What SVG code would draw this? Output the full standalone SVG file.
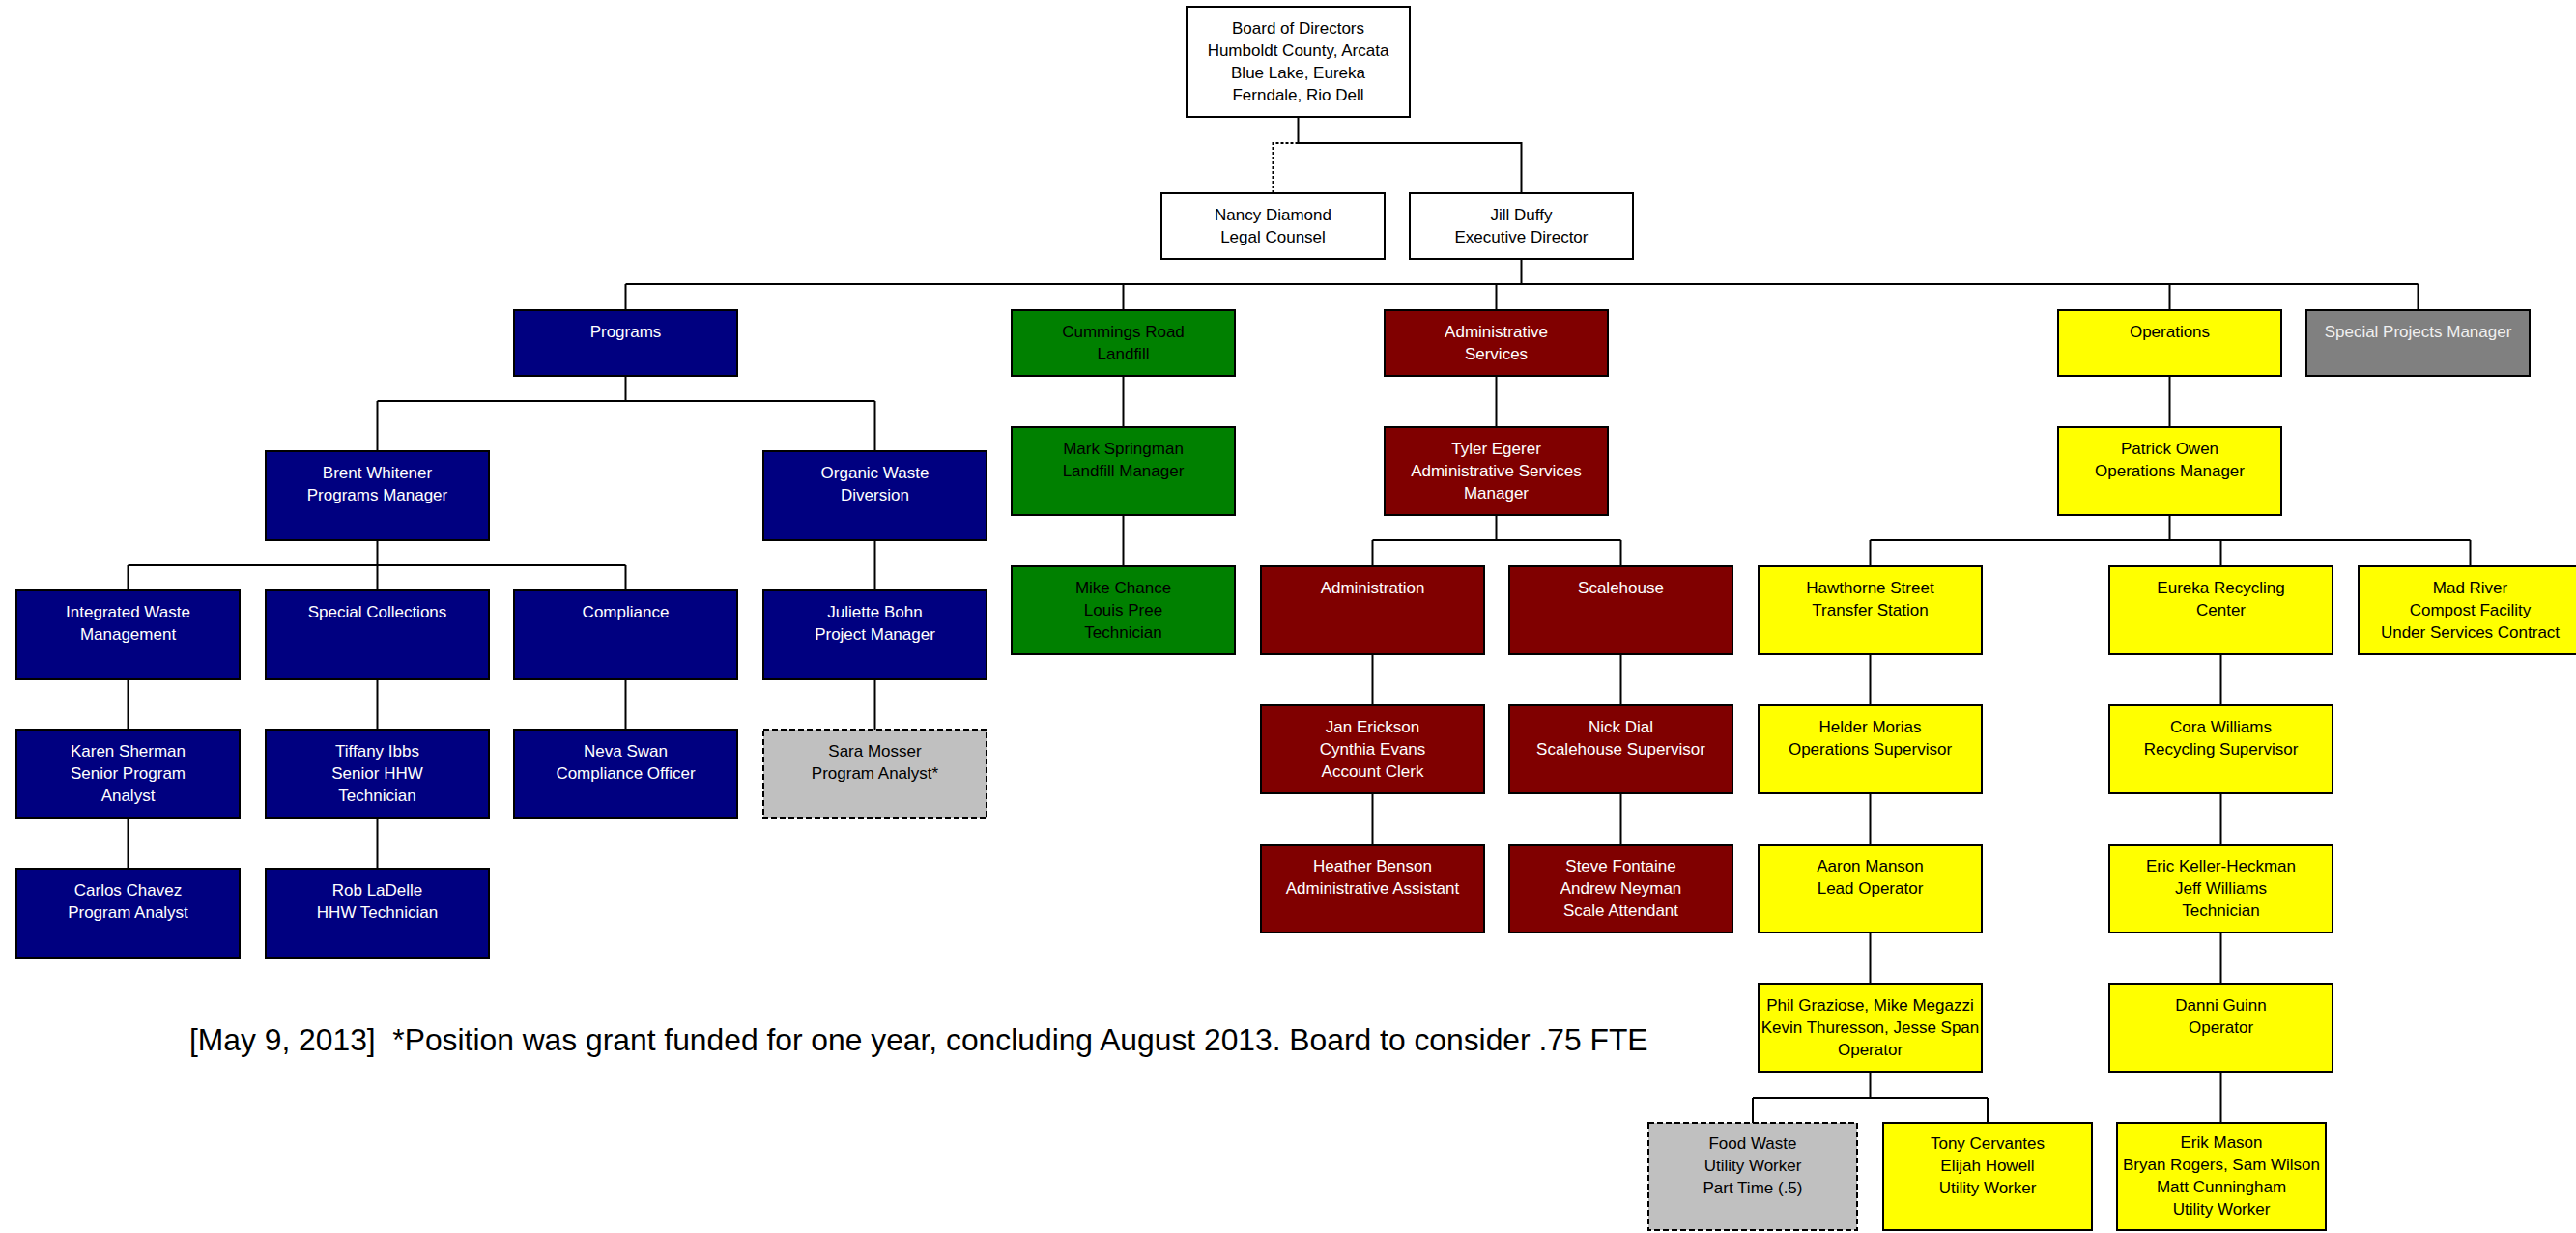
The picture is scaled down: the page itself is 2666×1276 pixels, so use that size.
<svg xmlns="http://www.w3.org/2000/svg" width="2666" height="1276" viewBox="0 0 2666 1276">
<style>
.b{stroke:#000;stroke-width:2}
.wh{fill:#fff}.nv{fill:#000080}.gr{fill:#008000}.rd{fill:#800000}.yl{fill:#ffff00}.gy{fill:#808080}.lg{fill:#c0c0c0;stroke-dasharray:6 3}
text{font-family:"Liberation Sans",Arial,sans-serif;font-size:17px;text-anchor:middle}
.tw{fill:#fff}.tk{fill:#000}
.c path{fill:none;stroke:#000;stroke-width:2}
.c path.dot{stroke-dasharray:3 2}
.note{font-size:31.8px;text-anchor:start;fill:#000}
</style>
<g class="c" id="connectors">
<path d="M1343.5 121V148H1574.5V200"/>
<path class="dot" d="M1343.5 148H1317.5V200"/>
<path d="M1574.5 268V294M647.5 294H2502.5M647.5 294V321M1162.5 294V321M1548.5 294V321M2245.5 294V321M2502.5 294V321"/>
<path d="M647.5 389V415M390.5 415H905.5M390.5 415V467M905.5 415V467"/>
<path d="M390.5 559V585M132.5 585H647.5M132.5 585V611M390.5 585V611M647.5 585V611M905.5 559V611"/>
<path d="M132.5 703V755M390.5 703V755M647.5 703V755M905.5 703V755M132.5 847V899M390.5 847V899"/>
<path d="M1162.5 389V442M1162.5 533V586"/>
<path d="M1548.5 389V442M1548.5 533V559M1420.5 559H1677.5M1420.5 559V586M1677.5 559V586"/>
<path d="M1420.5 677V730M1420.5 821V874M1677.5 677V730M1677.5 821V874"/>
<path d="M2245.5 389V442M2245.5 533V559M1935.5 559H2556.5M1935.5 559V586M2298.5 559V586M2556.5 559V586"/>
<path d="M1935.5 677V730M1935.5 821V874M1935.5 965V1018M1935.5 1109V1136M1814 1136H2057M1814 1136V1162M2057 1136V1162"/>
<path d="M2298.5 677V730M2298.5 821V874M2298.5 965V1018M2298.5 1109V1162"/>
</g>
<g id="board"><rect class="b wh" x="1228" y="7" width="231" height="114"/><text class="tk" x="1343.5" y="34.5">Board of Directors<tspan x="1343.5" dy="23.3">Humboldt County, Arcata</tspan><tspan x="1343.5" dy="23.3">Blue Lake, Eureka</tspan><tspan x="1343.5" dy="23.3">Ferndale, Rio Dell</tspan></text></g>
<g id="nancy"><rect class="b wh" x="1202" y="200" width="231" height="68"/><text class="tk" x="1317.5" y="227.5">Nancy Diamond<tspan x="1317.5" dy="23">Legal Counsel</tspan></text></g>
<g id="jill"><rect class="b wh" x="1459" y="200" width="231" height="68"/><text class="tk" x="1574.5" y="227.5">Jill Duffy<tspan x="1574.5" dy="23">Executive Director</tspan></text></g>
<g id="programs"><rect class="b nv" x="532" y="321" width="231" height="68"/><text class="tw" x="647.5" y="348.5">Programs</text></g>
<g id="cummings"><rect class="b gr" x="1047" y="321" width="231" height="68"/><text class="tk" x="1162.5" y="348.5">Cummings Road<tspan x="1162.5" dy="23">Landfill</tspan></text></g>
<g id="adminservices"><rect class="b rd" x="1433" y="321" width="231" height="68"/><text class="tw" x="1548.5" y="348.5">Administrative<tspan x="1548.5" dy="23">Services</tspan></text></g>
<g id="operations"><rect class="b yl" x="2130" y="321" width="231" height="68"/><text class="tk" x="2245.5" y="348.5">Operations</text></g>
<g id="specialprojects"><rect class="b gy" x="2387" y="321" width="231" height="68"/><text fill="#f0f0f0" x="2502.5" y="348.5">Special Projects Manager</text></g>
<g id="brent"><rect class="b nv" x="275" y="467" width="231" height="92"/><text class="tw" x="390.5" y="494.5">Brent Whitener<tspan x="390.5" dy="23">Programs Manager</tspan></text></g>
<g id="organic"><rect class="b nv" x="790" y="467" width="231" height="92"/><text class="tw" x="905.5" y="494.5">Organic Waste<tspan x="905.5" dy="23">Diversion</tspan></text></g>
<g id="integrated"><rect class="b nv" x="17" y="611" width="231" height="92"/><text class="tw" x="132.5" y="638.5">Integrated Waste<tspan x="132.5" dy="23">Management</tspan></text></g>
<g id="specialcollections"><rect class="b nv" x="275" y="611" width="231" height="92"/><text class="tw" x="390.5" y="638.5">Special Collections</text></g>
<g id="compliance"><rect class="b nv" x="532" y="611" width="231" height="92"/><text class="tw" x="647.5" y="638.5">Compliance</text></g>
<g id="juliette"><rect class="b nv" x="790" y="611" width="231" height="92"/><text class="tw" x="905.5" y="638.5">Juliette Bohn<tspan x="905.5" dy="23">Project Manager</tspan></text></g>
<g id="karen"><rect class="b nv" x="17" y="755" width="231" height="92"/><text class="tw" x="132.5" y="782.5">Karen Sherman<tspan x="132.5" dy="23">Senior Program</tspan><tspan x="132.5" dy="23">Analyst</tspan></text></g>
<g id="tiffany"><rect class="b nv" x="275" y="755" width="231" height="92"/><text class="tw" x="390.5" y="782.5">Tiffany Ibbs<tspan x="390.5" dy="23">Senior HHW</tspan><tspan x="390.5" dy="23">Technician</tspan></text></g>
<g id="neva"><rect class="b nv" x="532" y="755" width="231" height="92"/><text class="tw" x="647.5" y="782.5">Neva Swan<tspan x="647.5" dy="23">Compliance Officer</tspan></text></g>
<g id="sara"><rect class="b lg" x="790" y="755" width="231" height="92"/><text class="tk" x="905.5" y="782.5">Sara Mosser<tspan x="905.5" dy="23">Program Analyst*</tspan></text></g>
<g id="carlos"><rect class="b nv" x="17" y="899" width="231" height="92"/><text class="tw" x="132.5" y="926.5">Carlos Chavez<tspan x="132.5" dy="23">Program Analyst</tspan></text></g>
<g id="rob"><rect class="b nv" x="275" y="899" width="231" height="92"/><text class="tw" x="390.5" y="926.5">Rob LaDelle<tspan x="390.5" dy="23">HHW Technician</tspan></text></g>
<g id="mark"><rect class="b gr" x="1047" y="442" width="231" height="91"/><text class="tk" x="1162.5" y="469.5">Mark Springman<tspan x="1162.5" dy="23">Landfill Manager</tspan></text></g>
<g id="mike"><rect class="b gr" x="1047" y="586" width="231" height="91"/><text class="tk" x="1162.5" y="613.5">Mike Chance<tspan x="1162.5" dy="23">Louis Pree</tspan><tspan x="1162.5" dy="23">Technician</tspan></text></g>
<g id="tyler"><rect class="b rd" x="1433" y="442" width="231" height="91"/><text class="tw" x="1548.5" y="469.5">Tyler Egerer<tspan x="1548.5" dy="23">Administrative Services</tspan><tspan x="1548.5" dy="23">Manager</tspan></text></g>
<g id="administration"><rect class="b rd" x="1305" y="586" width="231" height="91"/><text class="tw" x="1420.5" y="613.5">Administration</text></g>
<g id="scalehouse"><rect class="b rd" x="1562" y="586" width="231" height="91"/><text class="tw" x="1677.5" y="613.5">Scalehouse</text></g>
<g id="jan"><rect class="b rd" x="1305" y="730" width="231" height="91"/><text class="tw" x="1420.5" y="757.5">Jan Erickson<tspan x="1420.5" dy="23">Cynthia Evans</tspan><tspan x="1420.5" dy="23">Account Clerk</tspan></text></g>
<g id="nick"><rect class="b rd" x="1562" y="730" width="231" height="91"/><text class="tw" x="1677.5" y="757.5">Nick Dial<tspan x="1677.5" dy="23">Scalehouse Supervisor</tspan></text></g>
<g id="heather"><rect class="b rd" x="1305" y="874" width="231" height="91"/><text class="tw" x="1420.5" y="901.5">Heather Benson<tspan x="1420.5" dy="23">Administrative Assistant</tspan></text></g>
<g id="steve"><rect class="b rd" x="1562" y="874" width="231" height="91"/><text class="tw" x="1677.5" y="901.5">Steve Fontaine<tspan x="1677.5" dy="23">Andrew Neyman</tspan><tspan x="1677.5" dy="23">Scale Attendant</tspan></text></g>
<g id="patrick"><rect class="b yl" x="2130" y="442" width="231" height="91"/><text class="tk" x="2245.5" y="469.5">Patrick Owen<tspan x="2245.5" dy="23">Operations Manager</tspan></text></g>
<g id="hawthorne"><rect class="b yl" x="1820" y="586" width="231" height="91"/><text class="tk" x="1935.5" y="613.5">Hawthorne Street<tspan x="1935.5" dy="23">Transfer Station</tspan></text></g>
<g id="eureka"><rect class="b yl" x="2183" y="586" width="231" height="91"/><text class="tk" x="2298.5" y="613.5">Eureka Recycling<tspan x="2298.5" dy="23">Center</tspan></text></g>
<g id="madriver"><rect class="b yl" x="2441" y="586" width="231" height="91"/><text class="tk" x="2556.5" y="613.5">Mad River<tspan x="2556.5" dy="23">Compost Facility</tspan><tspan x="2556.5" dy="23">Under Services Contract</tspan></text></g>
<g id="helder"><rect class="b yl" x="1820" y="730" width="231" height="91"/><text class="tk" x="1935.5" y="757.5">Helder Morias<tspan x="1935.5" dy="23">Operations Supervisor</tspan></text></g>
<g id="cora"><rect class="b yl" x="2183" y="730" width="231" height="91"/><text class="tk" x="2298.5" y="757.5">Cora Williams<tspan x="2298.5" dy="23">Recycling Supervisor</tspan></text></g>
<g id="aaron"><rect class="b yl" x="1820" y="874" width="231" height="91"/><text class="tk" x="1935.5" y="901.5">Aaron Manson<tspan x="1935.5" dy="23">Lead Operator</tspan></text></g>
<g id="eric"><rect class="b yl" x="2183" y="874" width="231" height="91"/><text class="tk" x="2298.5" y="901.5">Eric Keller-Heckman<tspan x="2298.5" dy="23">Jeff Williams</tspan><tspan x="2298.5" dy="23">Technician</tspan></text></g>
<g id="phil"><rect class="b yl" x="1820" y="1018" width="231" height="91"/><text class="tk" x="1935.5" y="1045.5">Phil Graziose, Mike Megazzi<tspan x="1935.5" dy="23">Kevin Thuresson, Jesse Span</tspan><tspan x="1935.5" dy="23">Operator</tspan></text></g>
<g id="danni"><rect class="b yl" x="2183" y="1018" width="231" height="91"/><text class="tk" x="2298.5" y="1045.5">Danni Guinn<tspan x="2298.5" dy="23">Operator</tspan></text></g>
<g id="foodwaste"><rect class="b lg" x="1706" y="1162" width="216" height="111"/><text class="tk" x="1814" y="1189">Food Waste<tspan x="1814" dy="23">Utility Worker</tspan><tspan x="1814" dy="23">Part Time (.5)</tspan></text></g>
<g id="tony"><rect class="b yl" x="1949" y="1162" width="216" height="111"/><text class="tk" x="2057" y="1189">Tony Cervantes<tspan x="2057" dy="23">Elijah Howell</tspan><tspan x="2057" dy="23">Utility Worker</tspan></text></g>
<g id="erik"><rect class="b yl" x="2191" y="1162" width="216" height="111"/><text class="tk" x="2299" y="1188">Erik Mason<tspan x="2299" dy="23">Bryan Rogers, Sam Wilson</tspan><tspan x="2299" dy="23">Matt Cunningham</tspan><tspan x="2299" dy="23">Utility Worker</tspan></text></g>
<text class="note" x="196" y="1087" xml:space="preserve">[May 9, 2013]  *Position was grant funded for one year, concluding August 2013. Board to consider .75 FTE</text>
</svg>
